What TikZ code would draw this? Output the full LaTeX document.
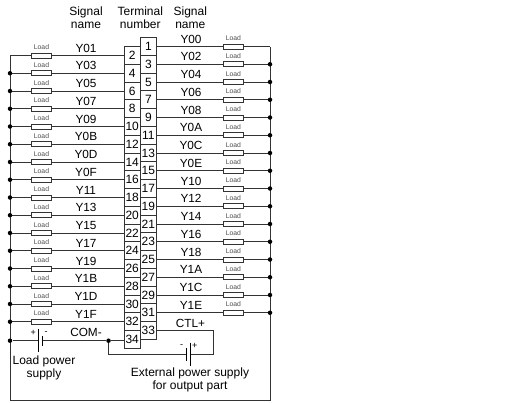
\documentclass[tikz,border=0pt]{standalone}
\usepackage{fontspec}
\setmainfont{Liberation Sans}
\usetikzlibrary{positioning}
\definecolor{wire}{gray}{0.2}
\tikzset{
	terminal/.style={draw=wire,fill=white,minimum width=16.2pt,minimum height=17.75pt,inner sep=0pt,font=\fontsize{12}{12}\selectfont},
	signal/.style={inner sep=0pt,font=\fontsize{11.8}{12}\selectfont},
	caption/.style={inner sep=0pt,align=center,font=\fontsize{12}{12.8}\selectfont},
	polarity/.style={inner sep=0pt,font=\fontsize{9}{9}\selectfont},
	load/.style={draw=wire,fill=white,minimum width=20.5pt,minimum height=5pt,inner sep=0pt},
	loadtext/.style={inner sep=0pt,text=black!70,font=\fontsize{6.8}{6.8}\selectfont},
	junction/.style={circle,fill=black,inner sep=0pt,minimum size=4.5pt},
	plate/.style={black,line width=1pt},
}
\begin{document}
\begin{tikzpicture}[x=1pt,y=-1pt,line width=1pt,draw=wire]
	\useasboundingbox (0,0) rectangle (509,402);
	% rails
	\coordinate (LT) at (10,55.5);
	\coordinate (LB) at (10,400);
	\coordinate (RT) at (270,46.5);
	\coordinate (RB) at (270,400);
	\draw (LT) -- (LB) -- (RB) -- (RT);
	% terminals, odd numbers on the right
	\foreach \n/\name [count=\i from 0] in {1/Y00,3/Y02,5/Y04,7/Y06,9/Y08,11/Y0A,13/Y0C,15/Y0E,17/Y10,19/Y12,21/Y14,23/Y16,25/Y18,27/Y1A,29/Y1C,31/Y1E}{
		\node[terminal] (t\n) at (148.4,46.5+17.75*\i) {\n};
		\node[signal] (s\n) at (191,39+17.75*\i) {\name};
		\node[load] (r\n) at (233.4,46.5+17.75*\i) {};
		\node[loadtext,above=2.2pt of r\n] (l\n) {Load};
		\coordinate (e\n) at (270,46.5+17.75*\i);
		\draw (t\n) -- (r\n) -- (e\n);
		\ifnum\n>1 \node[junction] (j\n) at (e\n) {}; \fi
	}
	% terminals, even numbers on the left
	\foreach \n/\name [count=\i from 0] in {2/Y01,4/Y03,6/Y05,8/Y07,10/Y09,12/Y0B,14/Y0D,16/Y0F,18/Y11,20/Y13,22/Y15,24/Y17,26/Y19,28/Y1B,30/Y1D,32/Y1F}{
		\node[terminal] (t\n) at (132.2,55.5+17.75*\i) {\n};
		\node[signal] (s\n) at (86,48+17.75*\i) {\name};
		\node[load] (r\n) at (41.5,55.5+17.75*\i) {};
		\node[loadtext,above=2.2pt of r\n] (l\n) {Load};
		\coordinate (e\n) at (10,55.5+17.75*\i);
		\draw (t\n) -- (r\n) -- (e\n);
		\ifnum\n>2 \node[junction] (j\n) at (e\n) {}; \fi
	}
	\node[terminal] (t33) at (148.4,330.5) {33};
	\node[terminal] (t34) at (132.2,339.5) {34};
	\node[signal] (ctl) at (190.5,323) {CTL+};
	\node[signal] (com) at (86,332) {COM-};
	% load power supply
	\node[junction] (j34) at (10,340.7) {};
	\node[junction] (jc) at (108.5,340.7) {};
	\coordinate (b1) at (38.7,340.7);
	\coordinate (b2) at (42.7,340.7);
	\draw (j34) -- (b1);
	\draw (b2) -- (jc);
	\draw (jc) -- (t34.west |- jc);
	\draw[plate] (38.7,329) -- (38.7,352);
	\draw[plate] (42.7,336) -- (42.7,346);
	\node[polarity] (bp1) at (33.3,332.8) {+};
	\node[polarity] (bm1) at (46,332.8) {-};
	% external power supply
	\coordinate (c1) at (108.5,354.3);
	\coordinate (c2) at (186,354.3);
	\coordinate (c3) at (190,354.3);
	\coordinate (c4) at (213.5,354.3);
	\coordinate (c5) at (213.5,330.5);
	\draw (jc) -- (c1) -- (c2);
	\draw (c3) -- (c4) -- (c5) -- (t33);
	\draw[plate] (186,348) -- (186,361);
	\draw[plate] (190,342.5) -- (190,366);
	\node[polarity] (bm2) at (181.5,345.8) {-};
	\node[polarity] (bp2) at (194.8,345.8) {+};
	% captions
	\node[caption] (h1) at (86,18) {Signal\\name};
	\node[caption] (h2) at (140.3,18) {Terminal\\number};
	\node[caption] (h3) at (190.3,18) {Signal\\name};
	\node[caption] (h4) at (44,368) {Load power\\supply};
	\node[caption] (h5) at (190,380) {External power supply\\for output part};
\end{tikzpicture}
\end{document}
